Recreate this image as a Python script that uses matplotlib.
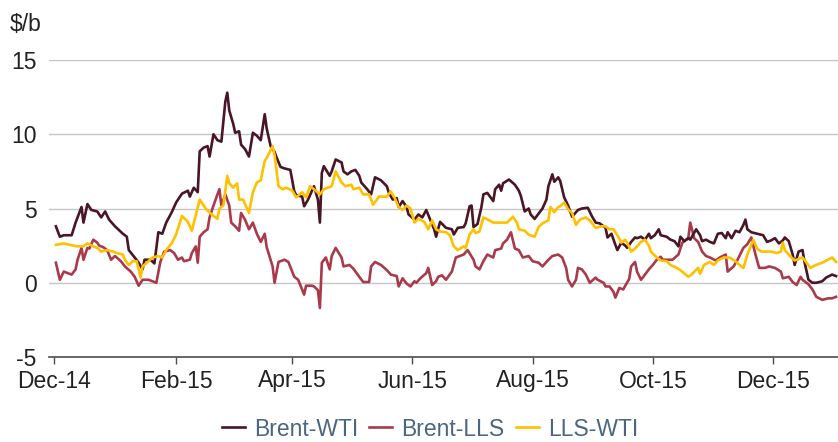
import pandas as pd
import matplotlib
matplotlib.use('Agg')
import matplotlib.pyplot as plt
import matplotlib.dates as mdates

plt.rcParams['font.family'] = ['Liberation Sans', 'DejaVu Sans']
plt.rcParams['axes.unicode_minus'] = False

# Day offsets from 1 Dec 2014 and spread values ($/b)
start = pd.Timestamp('2014-12-01')

bw_day = [1, 3, 5, 9, 11, 14, 15, 17, 19, 22, 24, 26, 28, 31, 35, 37, 38, 41, 43, 45,
          46, 49, 51, 53, 55, 57, 60, 62, 65, 68, 69, 71, 73, 74, 76, 78, 79, 81, 83, 85,
          87, 88, 89, 91, 92, 94, 95, 97, 99, 101, 103, 105, 107, 108, 110, 112, 113, 115, 117, 120,
          122, 123, 126, 127, 129, 132, 134, 135, 136, 137, 140, 141, 143, 146, 147, 149, 151, 153, 155, 156,
          159, 161, 163, 166, 169, 170, 172, 174, 175, 177, 179, 180, 183, 185, 187, 189, 191, 193, 194, 196,
          199, 202, 203, 205, 208, 209, 211, 212, 213, 215, 217, 218, 220, 223, 224, 226, 227, 228, 231, 234,
          236, 237, 239, 241, 242, 244, 246, 248, 250, 251, 253, 254, 256, 257, 259, 261, 263, 266, 268, 271,
          273, 275, 277, 280, 281, 283, 285, 286, 288, 290, 291, 293, 295, 296, 298, 300, 302, 303, 305, 307,
          308, 311, 313, 315, 317, 318, 320, 322, 323, 326, 328, 329, 331, 333, 335, 337, 339, 341, 342, 344,
          346, 348, 350, 351, 352, 354, 357, 360, 362, 364, 366, 368, 370, 371, 373, 375, 376, 378, 380, 381,
          383, 385, 387, 390, 392, 395, 397]
bw_val = [3.8, 3.1, 3.2, 3.2, 4.05, 5.1, 4.05, 5.3, 4.9, 4.8, 4.4, 4.8, 4.25, 3.8, 3.3, 3.1, 2.2, 1.7, 1.35, 0.9,
          1.55, 1.55, 1.3, 3.4, 3.3, 4.05, 4.8, 5.4, 6.0, 6.2, 5.8, 6.4, 6.1, 8.85, 9.1, 9.2, 8.5, 10.0, 9.6, 9.5,
          12.2, 12.8, 11.6, 10.7, 10.1, 10.2, 9.3, 9.0, 8.5, 10.1, 9.9, 9.6, 11.35, 10.4, 9.2, 8.8, 8.45, 7.8, 7.7, 7.6,
          6.15, 5.9, 5.8, 5.15, 5.6, 6.5, 5.6, 4.05, 7.4, 7.85, 7.2, 7.5, 8.3, 8.1, 7.5, 7.3, 7.5, 7.6, 7.2, 6.75,
          6.3, 5.95, 7.1, 6.9, 6.5, 6.05, 5.6, 5.7, 5.1, 5.5, 5.1, 4.6, 4.25, 4.6, 4.4, 4.9, 4.25, 3.6, 3.1, 4.1,
          3.7, 3.6, 3.25, 3.7, 3.75, 4.0, 5.15, 5.2, 3.75, 3.95, 5.1, 5.95, 6.05, 5.5, 6.3, 6.6, 6.2, 6.7, 6.95, 6.6,
          6.2, 5.85, 4.8, 5.0, 4.6, 4.3, 4.65, 5.0, 5.6, 6.5, 7.3, 6.8, 7.1, 6.85, 5.75, 5.2, 4.45, 4.9, 5.0, 5.05,
          4.5, 4.05, 4.0, 3.7, 3.05, 3.3, 2.55, 2.2, 2.7, 2.5, 2.35, 2.75, 3.05, 3.0, 3.1, 2.9, 3.3, 3.0, 3.2, 3.6,
          3.2, 3.1, 2.9, 2.8, 2.45, 3.1, 2.8, 3.0, 2.9, 3.6, 3.2, 2.8, 2.9, 2.75, 2.65, 3.3, 3.35, 3.0, 3.4, 3.0,
          3.5, 3.4, 3.9, 4.25, 3.6, 3.4, 3.3, 3.2, 2.75, 2.85, 3.0, 2.65, 2.85, 3.05, 2.8, 1.9, 1.2, 2.1, 2.2, 1.4,
          0.2, 0.0, 0.0, 0.1, 0.35, 0.55, 0.45]

bl_day = [1, 3, 5, 7, 9, 11, 12, 14, 15, 17, 18, 20, 22, 23, 25, 27, 29, 31, 34, 36,
          39, 41, 43, 45, 48, 50, 52, 54, 56, 59, 61, 63, 65, 66, 69, 70, 72, 73, 74, 76,
          78, 79, 81, 83, 84, 85, 87, 89, 90, 92, 94, 95, 97, 99, 101, 103, 105, 107, 108, 111,
          112, 114, 117, 119, 122, 124, 127, 128, 131, 132, 134, 135, 136, 138, 140, 141, 143, 146, 147, 150,
          152, 155, 157, 160, 161, 163, 166, 169, 171, 174, 175, 177, 179, 181, 183, 184, 186, 189, 190, 192,
          194, 195, 197, 199, 202, 204, 206, 208, 210, 213, 214, 216, 218, 220, 223, 224, 227, 228, 230, 232,
          234, 236, 238, 241, 243, 246, 248, 251, 253, 256, 258, 260, 261, 263, 265, 266, 268, 270, 272, 275,
          276, 279, 280, 282, 284, 285, 287, 289, 290, 292, 293, 295, 296, 298, 300, 302, 304, 306, 308, 309,
          312, 314, 317, 319, 322, 323, 325, 327, 329, 331, 333, 336, 338, 341, 342, 345, 347, 350, 352, 354,
          356, 358, 361, 363, 366, 369, 370, 373, 375, 377, 379, 380, 383, 385, 387, 390, 393, 395, 397]
bl_val = [1.35, 0.2, 0.75, 0.65, 0.55, 0.9, 1.55, 2.35, 1.55, 2.35, 2.3, 2.9, 2.7, 2.5, 2.4, 2.2, 1.55, 1.8, 1.45, 1.1,
          0.75, 0.4, -0.2, 0.2, 0.2, 0.1, 0.0, 1.4, 2.1, 2.2, 2.0, 1.55, 1.7, 1.45, 1.55, 2.0, 2.45, 1.35, 3.1, 3.4,
          3.6, 4.4, 5.2, 5.95, 6.3, 5.2, 5.95, 5.2, 4.05, 3.8, 3.5, 4.7, 4.25, 3.6, 4.05, 3.3, 2.75, 3.3, 2.4, 1.1,
          0.0, 1.4, 1.55, 1.4, 0.4, 0.2, -0.8, -0.2, -0.2, -0.25, -0.5, -1.7, 1.35, 1.7, 0.9, 1.8, 2.35, 1.7, 1.1, 1.2,
          0.95, 0.4, 0.05, 0.05, 1.1, 1.4, 1.2, 0.85, 0.55, 0.45, -0.25, 0.3, -0.05, -0.25, 0.1, 0.0, 0.3, 0.65, 1.0, -0.15,
          0.1, 0.4, 0.5, 0.2, 0.75, 1.7, 1.8, 1.9, 2.2, 1.55, 1.1, 0.9, 1.45, 1.9, 1.7, 2.2, 2.3, 2.65, 2.9, 3.4,
          2.3, 2.2, 1.7, 1.8, 1.45, 1.35, 1.1, 1.55, 1.8, 1.9, 1.7, 1.0, 0.2, -0.25, 0.2, 1.0, 0.9, 0.55, 0.0, 0.35,
          0.2, 0.0, -0.25, -0.25, -0.6, -1.0, -0.35, -0.45, -0.2, 0.25, 1.1, 1.4, 0.75, 0.2, 0.55, 0.9, 1.2, 1.55, 1.75, 1.55,
          1.55, 1.55, 1.9, 2.7, 3.0, 4.05, 3.0, 2.75, 2.1, 1.8, 1.7, 1.5, 1.7, 1.9, 0.75, 1.1, 1.55, 2.35, 2.6, 3.05,
          1.95, 1.0, 1.0, 1.1, 1.0, 0.75, 0.3, 0.4, 0.05, -0.15, 0.4, 0.2, -0.1, -0.45, -0.95, -1.15, -1.05, -1.05, -0.95]

lw_day = [1, 5, 8, 12, 15, 17, 20, 22, 24, 27, 30, 32, 35, 36, 38, 40, 42, 44, 45, 48,
          50, 53, 55, 57, 60, 62, 65, 68, 70, 74, 77, 80, 83, 84, 86, 88, 89, 91, 93, 94,
          96, 99, 101, 103, 105, 107, 108, 111, 112, 114, 116, 118, 121, 123, 126, 128, 130, 132, 135, 137,
          141, 143, 146, 148, 151, 152, 155, 157, 160, 162, 165, 169, 171, 173, 175, 177, 179, 181, 183, 185,
          188, 190, 192, 194, 196, 199, 201, 203, 205, 208, 209, 211, 213, 214, 216, 218, 221, 223, 227, 230,
          233, 235, 236, 239, 241, 244, 246, 248, 251, 252, 254, 256, 257, 259, 261, 263, 265, 267, 270, 272,
          275, 278, 280, 282, 284, 286, 288, 290, 291, 293, 295, 298, 300, 302, 303, 306, 308, 311, 313, 316,
          318, 322, 324, 327, 328, 330, 333, 335, 337, 340, 343, 346, 348, 350, 352, 354, 355, 357, 359, 362,
          364, 367, 369, 370, 371, 374, 376, 378, 380, 384, 386, 390, 393, 395, 397]
lw_val = [2.55, 2.65, 2.55, 2.45, 2.45, 2.65, 2.45, 2.35, 2.1, 2.2, 2.1, 2.0, 1.9, 1.55, 1.2, 1.45, 1.45, 0.35, 1.1, 1.45,
          1.7, 1.8, 1.7, 2.2, 2.7, 3.25, 4.5, 4.1, 3.5, 5.6, 5.0, 4.6, 4.3, 5.0, 5.2, 7.2, 6.7, 6.4, 6.7, 5.6,
          5.6, 4.7, 6.1, 6.75, 6.9, 8.2, 8.4, 9.2, 8.6, 6.5, 6.3, 6.4, 6.2, 5.75, 6.1, 5.75, 6.5, 6.3, 5.95, 6.3,
          6.5, 7.5, 6.75, 6.5, 6.6, 6.3, 6.4, 5.95, 5.95, 5.25, 5.8, 5.8, 6.15, 5.7, 5.1, 4.9, 5.2, 5.0, 4.05, 4.3,
          4.1, 3.6, 4.2, 3.6, 3.45, 3.4, 3.2, 2.45, 2.2, 2.45, 2.35, 3.25, 3.6, 3.35, 3.45, 4.4, 4.2, 4.05, 4.05, 4.05,
          4.45, 4.05, 3.6, 3.5, 3.25, 3.1, 3.75, 4.0, 4.2, 5.1, 4.75, 5.1, 5.15, 5.4, 4.95, 4.7, 3.9, 4.25, 4.4, 4.2,
          3.7, 3.8, 3.8, 3.6, 3.6, 3.2, 2.7, 2.9, 2.7, 2.1, 2.3, 2.75, 2.9, 2.5, 2.1, 1.7, 1.5, 1.45, 1.2, 1.0,
          0.85, 0.4, 0.6, 1.0, 0.6, 1.2, 1.4, 1.2, 1.5, 1.7, 1.7, 1.45, 1.2, 1.0, 1.9, 2.55, 2.9, 2.3, 2.1, 2.1,
          2.1, 2.0, 2.1, 2.7, 2.2, 1.75, 1.5, 1.6, 1.7, 1.0, 1.15, 1.35, 1.55, 1.7, 1.4]

tick_dates = ['2014-12-01', '2015-02-01', '2015-04-01', '2015-06-01',
              '2015-08-01', '2015-10-01', '2015-12-01']
y_ticks = [-5, 0, 5, 10, 15]


def to_dates(days):
    return start + pd.to_timedelta(days, unit='D')


fig = plt.figure(figsize=(8.38, 4.42), dpi=100)
ax = fig.add_axes([49 / 838, 1 - 357 / 442, 1 - 49 / 838, (357 - 60) / 442])

ax.plot(to_dates(bw_day), bw_val, color='#4a1524', lw=1.9, label='Brent-WTI', zorder=3)
ax.plot(to_dates(bl_day), bl_val, color='#a83a4c', lw=1.9, label='Brent-LLS', zorder=2)
ax.plot(to_dates(lw_day), lw_val, color='#ffc000', lw=1.9, label='LLS-WTI', zorder=4)

ax.set_ylim(-5, 15)
ax.set_yticks(y_ticks)
ax.set_xlim(start - pd.Timedelta(days=2.5), start + pd.Timedelta(days=398))
ax.set_xticks(pd.to_datetime(tick_dates))
ax.xaxis.set_major_formatter(mdates.DateFormatter('%b-%y'))

for y in y_ticks[1:]:
    ax.axhline(y, color='#c6c6c6', lw=1.0, zorder=1)

for s in ['top', 'right', 'left']:
    ax.spines[s].set_visible(False)
ax.spines['bottom'].set_color('#4d4d4d')
ax.spines['bottom'].set_linewidth(1.2)

ax.tick_params(axis='y', length=0, pad=9, labelsize=16.5, labelcolor='#222222')
ax.tick_params(axis='x', direction='out', length=5, width=1.0, color='#4d4d4d',
               pad=4, labelsize=16.5, labelcolor='#222222')

fig.text(10 / 838, 1 - 13 / 442, '$/b', fontsize=16.5, color='#222222', va='top', ha='left')

fig.legend(loc='center', bbox_to_anchor=(430 / 838, 1 - 429 / 442), ncol=3, frameon=False,
           fontsize=16.5, handlelength=1.0, handletextpad=0.4, columnspacing=0.5,
           labelcolor='#4a6682', borderpad=0.1)

plt.savefig('out.png', dpi=100)
